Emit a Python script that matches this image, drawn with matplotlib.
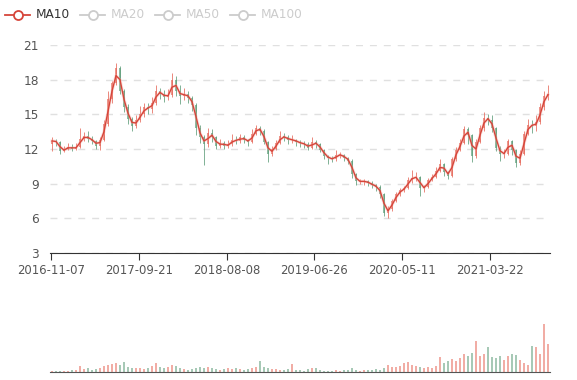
import numpy as np
import pandas as pd
import matplotlib
matplotlib.use("Agg")
import matplotlib.pyplot as plt
from matplotlib.lines import Line2D

# ~10 trading days per point
closes = [12.7, 12.6, 11.8, 12.0, 12.2, 12.0, 12.2, 12.9, 13.1, 12.9,
          12.7, 12.3, 12.8, 14.2, 16.3, 17.7, 19.0, 17.0, 15.6, 14.6,
          14.0, 14.5, 15.0, 15.6, 15.5, 16.0, 17.0, 16.8, 16.5, 16.7,
          18.0, 17.0, 16.6, 16.8, 16.4, 15.8, 13.8, 13.0, 12.4, 13.4,
          13.0, 12.3, 12.55, 12.25, 12.4, 12.8, 12.7, 13.0, 12.8, 12.6,
          13.3, 13.85, 13.55, 12.6, 11.6, 12.0, 12.5, 13.1, 13.0, 12.8,
          12.8, 12.6, 12.5, 12.4, 12.1, 12.6, 12.4, 11.95, 11.4, 11.2,
          11.1, 11.5, 11.5, 11.2, 11.0, 9.8, 9.2, 9.2, 9.2, 9.05,
          8.85, 8.7, 8.1, 6.5, 6.8, 7.5, 8.1, 8.45, 8.6, 9.35,
          9.5, 9.6, 8.6, 8.7, 9.3, 9.6, 10.1, 10.7, 10.0, 9.7,
          11.1, 11.9, 12.55, 13.7, 13.2, 11.4, 12.6, 13.8, 14.7, 14.55,
          13.8, 12.1, 11.6, 11.6, 12.7, 11.95, 10.8, 11.6, 13.3, 14.1,
          14.0, 14.3, 15.6, 16.6, 16.8]
highs = [13.0, 12.9, 12.7, 12.3, 12.5, 12.4, 12.5, 13.8, 13.5, 13.6,
         13.1, 12.8, 13.0, 14.5, 17.0, 17.9, 19.4, 19.2, 17.2, 15.9,
         14.8, 14.9, 15.7, 16.0, 16.0, 16.5, 17.5, 17.3, 17.1, 17.2,
         18.6, 18.3, 17.5, 17.3, 17.0, 16.6, 16.0, 14.1, 13.2, 13.8,
         13.7, 13.1, 12.9, 12.7, 12.8, 13.3, 13.1, 13.3, 13.2, 12.9,
         13.7, 14.1, 14.0, 13.7, 12.7, 12.3, 12.8, 13.6, 13.4, 13.2,
         13.2, 12.9, 12.8, 12.7, 12.6, 13.0, 12.8, 12.5, 12.0, 11.5,
         11.4, 11.9, 11.7, 11.6, 11.3, 11.1, 9.9, 9.4, 9.4, 9.3,
         9.2, 9.0, 8.9, 8.2, 7.1, 7.7, 8.3, 8.6, 8.8, 9.6,
         10.2, 10.0, 9.7, 8.9, 9.5, 9.8, 10.4, 11.1, 10.8, 10.1,
         11.3, 12.2, 12.9, 14.0, 13.9, 13.3, 12.9, 14.1, 15.2, 15.0,
         14.9, 13.9, 12.3, 12.0, 12.9, 12.8, 12.0, 11.9, 13.6, 14.6,
         14.5, 14.9, 16.0, 17.0, 17.5]
lows = [11.8, 12.3, 11.6, 11.7, 11.9, 11.8, 11.9, 12.1, 12.7, 12.6,
        12.4, 12.0, 11.9, 12.7, 14.0, 16.0, 17.5, 16.8, 15.2, 14.2,
        13.6, 13.8, 14.3, 14.8, 15.0, 15.1, 15.8, 16.3, 16.1, 16.2,
        16.5, 16.6, 15.9, 16.2, 16.0, 15.3, 13.2, 12.5, 10.6, 12.2,
        12.6, 12.0, 12.1, 12.0, 12.1, 12.3, 12.4, 12.5, 12.5, 12.3,
        12.5, 13.2, 13.2, 12.4, 10.9, 11.4, 11.9, 12.4, 12.7, 12.4,
        12.5, 12.3, 12.2, 12.1, 11.9, 12.0, 12.1, 11.7, 11.1, 10.7,
        10.9, 11.0, 11.2, 11.0, 10.7, 9.5, 8.9, 9.0, 8.9, 8.8,
        8.6, 8.4, 7.8, 6.2, 6.0, 6.6, 7.4, 7.9, 8.3, 8.5,
        9.1, 9.2, 7.9, 8.3, 8.6, 9.2, 9.5, 10.0, 9.7, 9.4,
        9.6, 11.0, 11.8, 12.4, 12.4, 10.9, 11.2, 12.5, 13.6, 14.1,
        13.5, 11.8, 11.0, 11.2, 11.5, 11.5, 10.4, 10.6, 11.5, 13.2,
        13.4, 13.6, 14.2, 15.4, 16.2]
volumes = [1, 1, 1, 1, 1, 2, 2, 7, 3, 4,
           2, 3, 4, 7, 8, 9, 10, 8, 11, 6,
           5, 4, 5, 3, 5, 7, 10, 6, 5, 6,
           8, 7, 4, 3, 2, 3, 4, 6, 5, 6,
           4, 3, 2, 3, 4, 3, 4, 3, 2, 3,
           4, 6, 12, 6, 4, 3, 3, 2, 2, 3,
           9, 2, 2, 1, 3, 5, 4, 2, 1, 1,
           1, 2, 1, 2, 2, 4, 2, 1, 2, 2,
           2, 3, 2, 5, 8, 6, 6, 7, 10, 11,
           8, 7, 6, 5, 6, 5, 7, 17, 10, 12,
           15, 13, 16, 20, 18, 22, 35, 18, 20, 28,
           17, 16, 18, 14, 18, 20, 19, 14, 10, 8,
           30, 28, 20, 55, 32]
first_open = 12.4
date_labels = ["2016-11-07", "2017-09-21", "2018-08-08",
               "2019-06-26", "2020-05-11", "2021-03-22"]
legend_names = ["MA10", "MA20", "MA50", "MA100"]

c = np.array(closes)
o = np.concatenate([[first_open], c[:-1]])
h = np.array(highs)
l = np.array(lows)
v = np.array(volumes)
n = len(c)
x = np.arange(n)
up = c >= o

up_col = "#e66a5c"
down_col = "#5f9e7b"
cols = np.where(up, up_col, down_col)

ma10 = pd.Series(c).rolling(2, min_periods=1).mean()

fig = plt.figure(figsize=(5.77, 3.80), dpi=100)
ax = fig.add_axes([50 / 577, 1 - 253 / 380, 500 / 577, 208 / 380])
axv = fig.add_axes([50 / 577, 1 - 372 / 380, 500 / 577, 72 / 380])

# candles
ax.vlines(x, l, h, colors=cols, lw=0.7, alpha=0.8, zorder=2)
ax.bar(x, np.abs(c - o), bottom=np.minimum(c, o), width=0.4,
       color=cols, alpha=0.7, linewidth=0, zorder=2)
ax.plot(x, ma10, color="#f2a39a", lw=2.2, alpha=0.35, zorder=3)
ax.plot(x, ma10, color="#d6453a", lw=1.0, zorder=4)

ax.set_xlim(-0.5, n - 0.5)
ax.set_ylim(3, 21)
ax.set_yticks([3, 6, 9, 12, 15, 18, 21])
ax.grid(axis="y", color="#e0e0e0", linestyle=(0, (5, 5)), lw=1)
ax.set_axisbelow(True)
for s in ["top", "right", "left"]:
    ax.spines[s].set_visible(False)
ax.spines["bottom"].set_color("#333333")
ax.tick_params(axis="y", length=0, labelsize=8.7, labelcolor="#555555", pad=8)
tick_pos = np.arange(len(date_labels)) * 21.95 - 0.25
ax.set_xticks(tick_pos)
ax.set_xticklabels(date_labels)
ax.tick_params(axis="x", length=5, color="#333333", labelsize=8.4,
               labelcolor="#555555", pad=3)

# volume
axv.bar(x, v, width=0.7, color=cols, alpha=0.55, linewidth=0)
axv.set_xlim(-0.5, n - 0.5)
axv.set_ylim(0, 82)
axv.set_xticks([])
axv.set_yticks([])
for s in ["top", "right", "left"]:
    axv.spines[s].set_visible(False)
axv.spines["bottom"].set_color("#555555")

# legend
icon_x = [5, 80, 155, 230]
for i, name in enumerate(legend_names):
    col = "#d6453a" if i == 0 else "#cccccc"
    tcol = "#333333" if i == 0 else "#cccccc"
    x0 = icon_x[i]
    y0 = 1 - 15 / 380
    fig.add_artist(Line2D([x0 / 577, (x0 + 25) / 577], [y0, y0],
                          color=col, lw=1.3, transform=fig.transFigure))
    fig.add_artist(Line2D([(x0 + 12.5) / 577], [y0], marker="o", ms=6.5,
                          mfc="white", mec=col, mew=1.3, transform=fig.transFigure))
    fig.text((x0 + 31) / 577, y0, name, color=tcol, fontsize=8.7,
             va="center", ha="left")

fig.savefig("out.png", dpi=100)
